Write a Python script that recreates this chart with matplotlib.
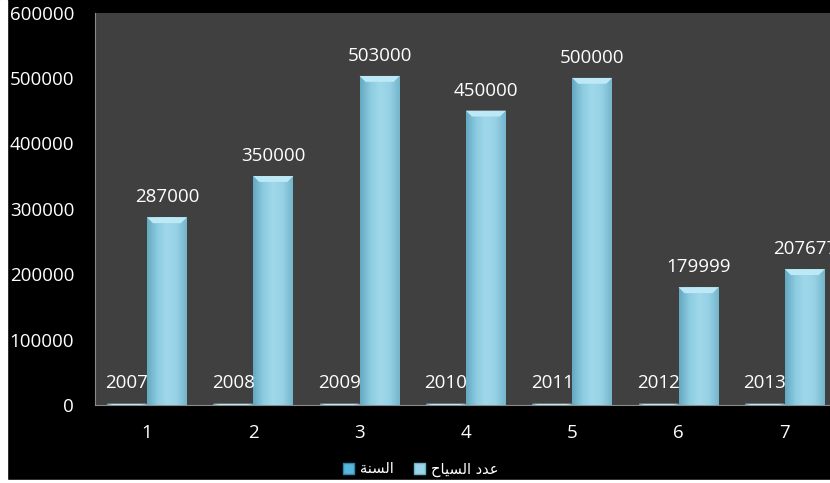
import matplotlib
matplotlib.use("Agg")
import matplotlib.pyplot as plt
import numpy as np
from matplotlib.patches import Rectangle
from matplotlib.colors import LinearSegmentedColormap

categories = ["1", "2", "3", "4", "5", "6", "7"]
years = [2007, 2008, 2009, 2010, 2011, 2012, 2013]
tourists = [287000, 350000, 503000, 450000, 500000, 179999, 207677]
# Arabic series names (logical: "السنة", "عدد السياح"), written in visual presentation forms
label_year = "\uFE94\uFEE8\uFEB4\uFEDF\uFE8D"
label_tourists = "\uFEA1\uFE8E\uFEF4\uFEB4\uFEDF\uFE8D \uFEA9\uFEAA\uFECB"
yticks = [0, 100000, 200000, 300000, 400000, 500000, 600000]

plt.rcParams['font.family'] = ['Open Sans', 'DejaVu Sans']

W, H = 830, 483
fig = plt.figure(figsize=(W / 100, H / 100), dpi=100, facecolor="black")
# thin white borders of the screenshot
fig.patches.append(Rectangle((0, 0), 7 / W, 1, transform=fig.transFigure, color="white", zorder=0))
fig.patches.append(Rectangle((0, 0), 1, 3 / H, transform=fig.transFigure, color="white", zorder=0))

ax = fig.add_axes([95 / W, 78 / H, 735 / W, 392.5 / H])
ax.set_facecolor("#404040")

x = np.arange(1, len(categories) + 1)
bw = 0.376
cmap = LinearSegmentedColormap.from_list("bev", ["#64a9c2", "#8ccbe0", "#a0d8ea", "#96d1e5", "#74b6cc"])
grad = np.linspace(0, 1, 64).reshape(1, -1)

def draw(xs, vals, label):
    bars = ax.bar(xs, vals, width=bw, color="#8ccbe0", edgecolor="none", label=label, zorder=2)
    for b in bars:
        x0, y0, w, h = b.get_x(), b.get_y(), b.get_width(), b.get_height()
        if h <= 0:
            continue
        im = ax.imshow(grad, cmap=cmap, aspect="auto", extent=[x0, x0 + w, y0, y0 + h],
                       zorder=3, interpolation="bicubic")
        im.set_clip_path(b)
        # top bevel highlight
        bev = min(h, 9000)
        ax.add_patch(plt.Polygon([[x0, y0 + h], [x0 + w, y0 + h], [x0 + w * 0.85, y0 + h - bev],
                                  [x0 + w * 0.15, y0 + h - bev]], closed=True,
                                 color="#bce9f5", zorder=4, lw=0))
    return bars

b1 = draw(x - bw / 2, years, label_year)
b2 = draw(x + bw / 2, tourists, label_tourists)

FS = 13.5
for xi, v in zip(x - bw / 2, years):
    ax.annotate(str(v), (xi, v), xytext=(0, 12), textcoords="offset pixels",
                ha="center", va="bottom", color="white", fontsize=FS, zorder=5)
for xi, v in zip(x + bw / 2, tourists):
    ax.annotate(str(v), (xi, v), xytext=(0, 11), textcoords="offset pixels",
                ha="center", va="bottom", color="white", fontsize=FS, zorder=5,
                annotation_clip=False)

ax.set_xlim(0.511, 7.425)
ax.set_ylim(0, 600000)
ax.set_xticks(x)
ax.set_xticklabels(categories)
ax.set_yticks(yticks)
ax.set_yticklabels([str(t) for t in yticks])
ax.tick_params(axis="both", length=0, colors="white", labelsize=FS)
ax.tick_params(axis="y", pad=15)
ax.tick_params(axis="x", pad=14)
for s in ["top", "right"]:
    ax.spines[s].set_visible(False)
ax.spines["left"].set_color("#8a8a8a")
ax.spines["bottom"].set_color("#8a8a8a")

handles = [Rectangle((0, 0), 1, 1, facecolor="#5bb6de", edgecolor="#2f86ad", lw=1),
           Rectangle((0, 0), 1, 1, facecolor="#9ad4e8", edgecolor="#6fb2c9", lw=1)]
leg = fig.legend(handles, [label_year, label_tourists], loc="center", ncol=2,
                 bbox_to_anchor=(421 / W, 1 - 469 / H), frameon=False,
                 handlelength=0.75, handleheight=0.75, handletextpad=0.4, columnspacing=1.4,
                 prop={"family": ["DejaVu Sans"], "size": 10.5})
for t in leg.get_texts():
    t.set_color("white")

fig.savefig("out.png", dpi=100, facecolor="black")
